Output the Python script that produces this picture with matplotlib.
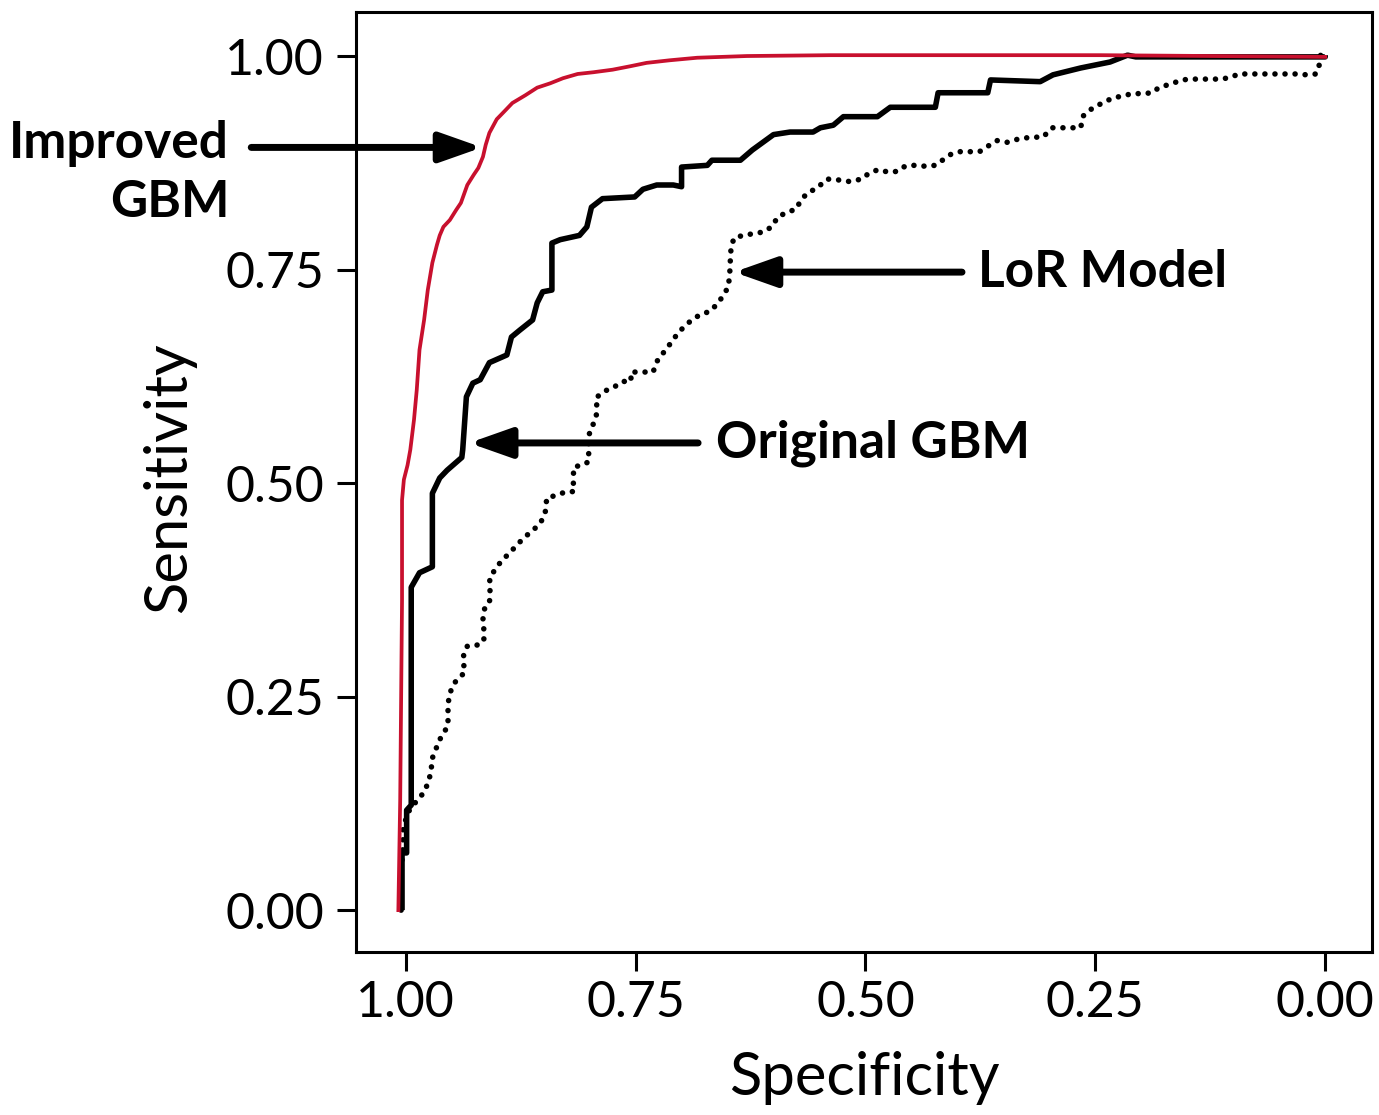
import matplotlib
matplotlib.use("Agg")
from matplotlib import pyplot as plt

plt.rcParams['font.family'] = ['Lato', 'DejaVu Sans']

# ROC curves (specificity, sensitivity)
improved_spec = [1.008, 1.006, 1.005, 1.004, 1.004, 1.002, 0.998, 0.995, 0.991, 0.988,
                 0.985, 0.980, 0.976, 0.971, 0.966, 0.963, 0.959, 0.952, 0.945, 0.940,
                 0.937, 0.933, 0.926, 0.921, 0.916, 0.913, 0.909, 0.901, 0.892, 0.884,
                 0.870, 0.857, 0.843, 0.829, 0.813, 0.796, 0.775, 0.756, 0.738, 0.713,
                 0.683, 0.629, 0.538, 0.353, 0.244, 0.0]
improved_sens = [0.000, 0.129, 0.246, 0.363, 0.480, 0.504, 0.521, 0.539, 0.574, 0.609,
                 0.656, 0.691, 0.726, 0.758, 0.779, 0.790, 0.800, 0.808, 0.820, 0.828,
                 0.837, 0.849, 0.861, 0.869, 0.882, 0.896, 0.910, 0.926, 0.936, 0.945,
                 0.954, 0.963, 0.968, 0.974, 0.979, 0.981, 0.984, 0.988, 0.992, 0.995,
                 0.998, 1.000, 1.001, 1.001, 1.001, 0.999]

original_spec = [1.004, 1.004, 0.999, 0.999, 0.994, 0.994, 0.985, 0.971, 0.971, 0.963,
                 0.955, 0.939, 0.938, 0.934, 0.927, 0.919, 0.909, 0.890, 0.885, 0.876,
                 0.862, 0.857, 0.851, 0.841, 0.841, 0.832, 0.811, 0.803, 0.798, 0.786,
                 0.751, 0.742, 0.727, 0.709, 0.700, 0.700, 0.672, 0.667, 0.636, 0.623,
                 0.600, 0.582, 0.557, 0.549, 0.535, 0.524, 0.487, 0.473, 0.424, 0.421,
                 0.367, 0.364, 0.310, 0.296, 0.266, 0.234, 0.215, 0.206, 0.0, 0.0]
original_sens = [0.000, 0.067, 0.067, 0.117, 0.123, 0.378, 0.395, 0.402, 0.488, 0.506,
                 0.515, 0.530, 0.539, 0.601, 0.617, 0.621, 0.641, 0.650, 0.671, 0.679,
                 0.691, 0.711, 0.724, 0.726, 0.781, 0.785, 0.790, 0.800, 0.823, 0.833,
                 0.835, 0.844, 0.849, 0.849, 0.847, 0.870, 0.872, 0.878, 0.878, 0.890,
                 0.908, 0.911, 0.911, 0.916, 0.919, 0.929, 0.929, 0.940, 0.940, 0.957,
                 0.957, 0.972, 0.970, 0.978, 0.986, 0.993, 1.001, 0.999, 0.999, 1.001]

lor_spec = [1.005, 1.005, 1.005, 1.004, 1.003, 1.003, 1.001, 0.996, 0.988, 0.980,
            0.975, 0.972, 0.972, 0.968, 0.965, 0.960, 0.954, 0.954, 0.954, 0.953,
            0.950, 0.945, 0.936, 0.937, 0.937, 0.933, 0.923, 0.915, 0.915, 0.916,
            0.914, 0.909, 0.908, 0.909, 0.908, 0.901, 0.896, 0.889, 0.882, 0.875,
            0.865, 0.855, 0.850, 0.847, 0.847, 0.836, 0.825, 0.817, 0.818, 0.817,
            0.808, 0.801, 0.801, 0.801, 0.800, 0.793, 0.792, 0.793, 0.783, 0.774,
            0.764, 0.755, 0.755, 0.743, 0.731, 0.726, 0.718, 0.711, 0.703, 0.695,
            0.688, 0.678, 0.669, 0.661, 0.655, 0.649, 0.648, 0.647, 0.647, 0.646,
            0.643, 0.633, 0.622, 0.611, 0.602, 0.595, 0.585, 0.575, 0.571, 0.563,
            0.553, 0.542, 0.530, 0.517, 0.504, 0.496, 0.486, 0.475, 0.465, 0.457,
            0.447, 0.435, 0.424, 0.415, 0.407, 0.397, 0.387, 0.376, 0.366, 0.357,
            0.346, 0.337, 0.327, 0.317, 0.307, 0.297, 0.287, 0.276, 0.266, 0.263,
            0.252, 0.242, 0.231, 0.221, 0.210, 0.198, 0.188, 0.181, 0.166, 0.156,
            0.146, 0.136, 0.125, 0.113, 0.103, 0.094, 0.083, 0.070, 0.057, 0.045,
            0.032, 0.020, 0.010, 0.006, 0.005, 0.000]
lor_sens = [0.000, 0.020, 0.043, 0.059, 0.074, 0.094, 0.103, 0.117, 0.128, 0.138,
            0.151, 0.165, 0.176, 0.185, 0.196, 0.205, 0.216, 0.227, 0.238, 0.249,
            0.260, 0.269, 0.278, 0.289, 0.300, 0.309, 0.310, 0.315, 0.328, 0.342,
            0.354, 0.360, 0.370, 0.382, 0.391, 0.401, 0.409, 0.416, 0.424, 0.432,
            0.442, 0.451, 0.460, 0.471, 0.482, 0.486, 0.490, 0.490, 0.505, 0.519,
            0.521, 0.525, 0.536, 0.548, 0.560, 0.576, 0.588, 0.600, 0.608, 0.612,
            0.619, 0.619, 0.630, 0.630, 0.630, 0.644, 0.655, 0.665, 0.677, 0.685,
            0.692, 0.698, 0.701, 0.710, 0.719, 0.730, 0.742, 0.754, 0.765, 0.776,
            0.787, 0.790, 0.792, 0.794, 0.800, 0.812, 0.817, 0.821, 0.830, 0.840,
            0.845, 0.856, 0.855, 0.853, 0.856, 0.863, 0.867, 0.864, 0.865, 0.871,
            0.872, 0.871, 0.872, 0.879, 0.885, 0.888, 0.888, 0.888, 0.895, 0.901,
            0.899, 0.902, 0.904, 0.905, 0.905, 0.916, 0.916, 0.916, 0.916, 0.930,
            0.940, 0.945, 0.951, 0.953, 0.956, 0.956, 0.957, 0.963, 0.968, 0.972,
            0.973, 0.973, 0.973, 0.973, 0.975, 0.979, 0.979, 0.979, 0.979, 0.979,
            0.979, 0.978, 0.979, 0.991, 1.001, 1.002]

ticks = [0.00, 0.25, 0.50, 0.75, 1.00]
tick_labels = ["0.00", "0.25", "0.50", "0.75", "1.00"]

# arrow annotations: label, text anchor, arrow tail, arrow tip
labels = ["Improved\nGBM", "Original GBM", "LoR Model"]
label_pos = [(1.192, 0.863), (0.663, 0.547), (0.378, 0.747)]
arrow_tail = [(1.168, 0.893), (0.682, 0.547), (0.395, 0.747)]
arrow_tip = [(0.917, 0.893), (0.931, 0.547), (0.643, 0.747)]
label_ha = ["right", "left", "left"]

fig = plt.figure(figsize=(13.79, 11.15), dpi=100)
ax = fig.add_axes([0.2582, 0.1462, 0.7368, 0.8430])

ax.plot(lor_spec, lor_sens, color='black', lw=4.0, linestyle=(0, (0.01, 1.8)),
        dash_capstyle='round', solid_joinstyle='round')
ax.plot(original_spec, original_sens, color='black', lw=4.0,
        solid_joinstyle='round', solid_capstyle='butt')
ax.plot(improved_spec, improved_sens, color='#C8102E', lw=2.7, solid_joinstyle='round')

for lab, pos, tail, tip, ha in zip(labels, label_pos, arrow_tail, arrow_tip, label_ha):
    ax.text(pos[0], pos[1], lab, ha=ha, va='center', multialignment='right',
            fontsize=37, fontweight='bold', linespacing=1.3, clip_on=False)
    ax.annotate('', xy=tip, xytext=tail, annotation_clip=False,
                arrowprops=dict(arrowstyle='-|>,head_length=0.85,head_width=0.3',
                                mutation_scale=30, lw=5, color='black',
                                shrinkA=0, shrinkB=0))

ax.set_xlim(1.054, -0.051)
ax.set_ylim(-0.049, 1.0515)
ax.set_xticks(ticks)
ax.set_xticklabels(tick_labels)
ax.set_yticks(ticks)
ax.set_yticklabels(tick_labels)
ax.tick_params(axis='both', labelsize=36, length=14, width=2.2)
ax.tick_params(axis='x', pad=6)
ax.tick_params(axis='y', pad=9)
for s in ax.spines.values():
    s.set_linewidth(2.2)

ax.set_xlabel("Specificity", fontsize=43)
ax.set_ylabel("Sensitivity", fontsize=43)
ax.xaxis.set_label_coords(0.5, -0.105)
ax.yaxis.set_label_coords(-0.157, 0.505)

fig.savefig("out.png", dpi=100)
